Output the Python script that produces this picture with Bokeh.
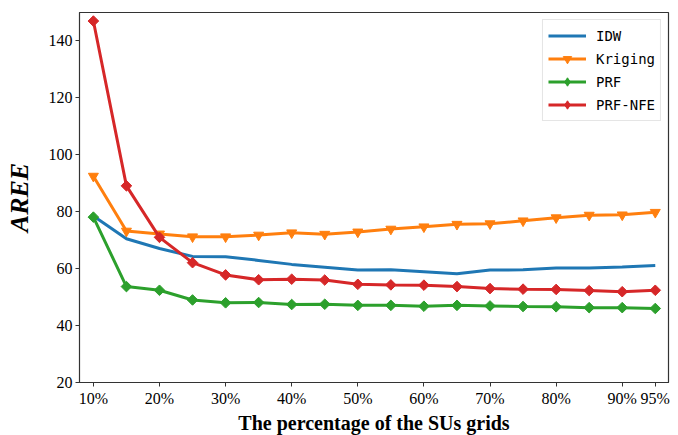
import math
from bokeh.plotting import figure
from bokeh.models import FixedTicker, Legend, LegendItem, Range1d
from bokeh.embed import file_html
from bokeh.resources import INLINE

pct = [10, 15, 20, 25, 30, 35, 40, 45, 50, 55, 60, 65, 70, 75, 80, 85, 90, 95]
idw = [78.5, 70.5, 67.1, 64.3, 64.2, 62.9, 61.5, 60.5, 59.5, 59.6, 58.9, 58.2, 59.5, 59.6, 60.2, 60.2, 60.6, 61.1]
kriging = [92.5, 73.2, 72.2, 71.2, 71.2, 71.8, 72.6, 72.1, 72.9, 73.9, 74.7, 75.6, 75.8, 76.8, 77.9, 78.8, 78.9, 79.8]
prf = [78.1, 53.7, 52.4, 49.0, 48.0, 48.1, 47.4, 47.5, 47.1, 47.1, 46.8, 47.1, 46.9, 46.7, 46.6, 46.3, 46.3, 46.0]
prf_nfe = [147.0, 89.1, 71.0, 62.1, 57.8, 56.1, 56.3, 56.0, 54.5, 54.3, 54.2, 53.7, 53.0, 52.8, 52.7, 52.3, 51.9, 52.4]

x_ticks = [10, 20, 30, 40, 50, 60, 70, 80, 90, 95]
x_tick_labels = ["10%", "20%", "30%", "40%", "50%", "60%", "70%", "80%", "90%", "95%"]
y_ticks = [20, 40, 60, 80, 100, 120, 140]

p = figure(width=678, height=435, output_backend="svg", toolbar_location=None,
           x_range=Range1d(7.9, 97.0), y_range=Range1d(20, 150),
           min_border_left=79, min_border_right=10, min_border_top=12, min_border_bottom=52)
p.frame_width = 589
p.frame_height = 370

p.xgrid.visible = False
p.ygrid.visible = False
p.outline_line_color = "#333333"
p.outline_line_width = 1.2

serif = "Liberation Serif"
p.xaxis.major_label_text_font = serif
p.yaxis.major_label_text_font = serif
p.xaxis.major_label_text_font_size = "16px"
p.yaxis.major_label_text_font_size = "16px"
p.xaxis.major_label_text_color = "black"
p.yaxis.major_label_text_color = "black"
p.xaxis.axis_line_color = "#333333"
p.yaxis.axis_line_color = "#333333"
p.xaxis.major_tick_line_color = "#333333"
p.yaxis.major_tick_line_color = "#333333"
p.xaxis.major_tick_in = 0
p.yaxis.major_tick_in = 0
p.xaxis.major_tick_out = 4
p.yaxis.major_tick_out = 4
p.xaxis.minor_tick_line_color = None
p.yaxis.minor_tick_line_color = None
p.xaxis.major_label_standoff = 3
p.yaxis.major_label_standoff = 3

p.xaxis.ticker = FixedTicker(ticks=x_ticks)
p.xaxis.major_label_overrides = {t: l for t, l in zip(x_ticks, x_tick_labels)}
p.yaxis.ticker = FixedTicker(ticks=y_ticks)

p.xaxis.axis_label = "The percentage of the SUs grids"
p.xaxis.axis_label_text_font = serif
p.xaxis.axis_label_text_font_style = "bold"
p.xaxis.axis_label_text_font_size = "20px"
p.xaxis.axis_label_text_color = "black"
p.xaxis.axis_label_standoff = 2
p.yaxis.axis_label = "AREE"
p.yaxis.axis_label_text_font = serif
p.yaxis.axis_label_text_font_style = "bold italic"
p.yaxis.axis_label_text_font_size = "26px"
p.yaxis.axis_label_text_color = "black"
p.yaxis.axis_label_standoff = 12

c_blue, c_orange, c_green, c_red = "#1f77b4", "#ff7f0e", "#2ca02c", "#d62728"
lw = 3

l1 = p.line(pct, idw, line_color=c_blue, line_width=lw)

l2 = p.line(pct, kriging, line_color=c_orange, line_width=lw)
m2 = p.scatter(pct, kriging, marker="inverted_triangle", size=10, fill_color=c_orange, line_color=c_orange)

l3 = p.line(pct, prf, line_color=c_green, line_width=lw)
m3 = p.scatter(pct, prf, marker="square", angle=math.pi / 4, size=7.5, fill_color=c_green, line_color=c_green)

l4 = p.line(pct, prf_nfe, line_color=c_red, line_width=lw)
m4 = p.scatter(pct, prf_nfe, marker="square", angle=math.pi / 4, size=7.5, fill_color=c_red, line_color=c_red)

# hidden diamond glyphs used only for the legend swatches
d3 = p.scatter(pct, prf, marker="diamond", size=10, fill_color=c_green, line_color=c_green, visible=False)
d4 = p.scatter(pct, prf_nfe, marker="diamond", size=10, fill_color=c_red, line_color=c_red, visible=False)

legend = Legend(items=[
    LegendItem(label="IDW", renderers=[l1]),
    LegendItem(label="Kriging", renderers=[l2, m2]),
    LegendItem(label="PRF", renderers=[l3, d3]),
    LegendItem(label="PRF-NFE", renderers=[l4, d4]),
], location="top_right")
legend.label_text_font = "DejaVu Sans Mono"
legend.label_text_font_size = "14px"
legend.label_text_color = "black"
legend.glyph_width = 38
legend.glyph_height = 21
legend.spacing = 2
legend.padding = 5
legend.margin = 7
legend.label_standoff = 10
legend.border_line_color = "#cccccc"
legend.border_line_width = 1
legend.background_fill_alpha = 0.9
p.add_layout(legend)

open("out.html", "w").write(file_html(p, INLINE))
